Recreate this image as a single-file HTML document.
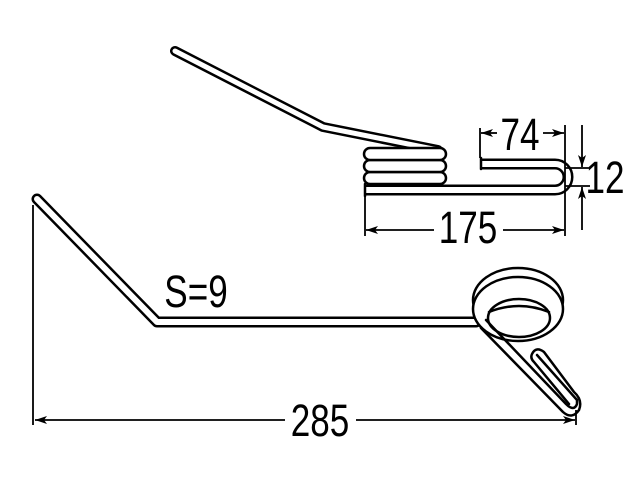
<!DOCTYPE html>
<html><head><style>html,body{margin:0;padding:0;background:#fff}svg{display:block}</style></head>
<body>
<svg width="640" height="480" viewBox="0 0 640 480" xmlns="http://www.w3.org/2000/svg" font-family="Liberation Sans, sans-serif">
<defs>
<marker id="a" markerWidth="12" markerHeight="8" refX="12" refY="4" orient="auto" markerUnits="userSpaceOnUse"><path d="M0,0 L12,4 L0,8 L3,4 Z" fill="#000"/></marker>
</defs>
<g fill="none" stroke-linejoin="round" stroke-linecap="round">
<path d="M175,51 L323,127 L438,150" stroke="#000" stroke-width="10"/>
<path d="M175,51 L323,127 L438,150" stroke="#fff" stroke-width="5"/>
<g stroke="#000" stroke-width="2.5" fill="#fff">
<rect x="364" y="172" width="82" height="12" rx="6"/>
<rect x="364" y="160" width="82" height="12" rx="6"/>
<rect x="364" y="148" width="82" height="12" rx="6"/>
</g>
<path d="M365,190 L555,190 A13,13 0 0 0 555,164 L482,164" stroke="#000" stroke-width="11" stroke-linecap="butt"/>
<path d="M365,190 L555,190 A13,13 0 0 0 555,164 L482,164" stroke="#fff" stroke-width="6" stroke-linecap="butt"/>
<path d="M481,158 L481,169 M365,184 L365,196" stroke="#000" stroke-width="2.5"/>
<path d="M37,199 L157,322 L476,322" stroke="#000" stroke-width="11"/>
<path d="M37,199 L157,322 L476,322" stroke="#fff" stroke-width="6"/>
<ellipse cx="518" cy="300" rx="45" ry="32" stroke="#000" stroke-width="2.5" fill="#fff"/>
<ellipse cx="518" cy="309" rx="45" ry="32" stroke="#000" stroke-width="2.5" fill="#fff"/>
<ellipse cx="519" cy="318" rx="31" ry="19" stroke="#000" stroke-width="2.5" fill="#fff"/>
<path d="M489,312 Q519,300 549,312" stroke="#000" stroke-width="2.5"/>
<path d="M486,320 L566,404 Q574,412 577,404 L577,400 L537,355" stroke="#000" stroke-width="2.5"/>
<path d="M481,328 L563,412 Q572,420 579,410 Q583,400 574,392 L544,352 Q536,346 532,354 Q530,358 534,362 L569,404" stroke="#000" stroke-width="2.5"/>
</g>
<g stroke="#000" stroke-width="1.8" fill="none">
<line x1="33" y1="205" x2="33" y2="425"/>
<line x1="576" y1="410" x2="576" y2="425"/>
<line x1="285" y1="420" x2="35" y2="420" marker-end="url(#a)"/>
<line x1="356" y1="420" x2="575" y2="420" marker-end="url(#a)"/>
<line x1="365" y1="196" x2="365" y2="236"/>
<line x1="565" y1="125" x2="565" y2="236"/>
<line x1="434" y1="230" x2="366" y2="230" marker-end="url(#a)"/>
<line x1="503" y1="230" x2="564" y2="230" marker-end="url(#a)"/>
<line x1="480" y1="128" x2="480" y2="158"/>
<line x1="497" y1="133" x2="481" y2="133" marker-end="url(#a)"/>
<line x1="543" y1="133" x2="564" y2="133" marker-end="url(#a)"/>
<line x1="565" y1="168" x2="590" y2="168"/>
<line x1="565" y1="186" x2="590" y2="186"/>
<line x1="582" y1="125" x2="582" y2="167" marker-end="url(#a)"/>
<line x1="582" y1="230" x2="582" y2="187" marker-end="url(#a)"/>
</g>
<g font-size="45" fill="#000" text-anchor="middle">
<text transform="translate(520,150) scale(0.78,1)">74</text>
<text transform="translate(605,193) scale(0.78,1)">12</text>
<text transform="translate(468,243) scale(0.78,1)">175</text>
<text transform="translate(320,436) scale(0.78,1)">285</text>
<text transform="translate(196,307) scale(0.78,1)">S=9</text>
</g>
</svg>
</body></html>
